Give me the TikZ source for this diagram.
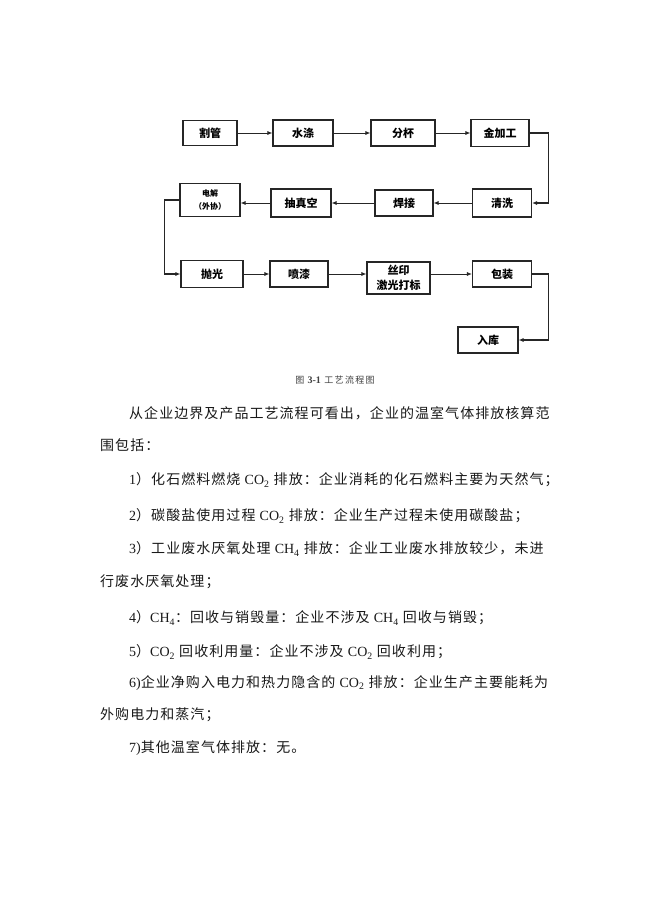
\documentclass[tikz,border=0pt]{standalone}
\usepackage{fontspec}
\setmainfont{Liberation Serif}
\newfontfamily\cjk{Noto Sans CJK SC}
\newfontfamily\cjkbody[LetterSpace=7.5]{Noto Sans CJK SC}
\newfontfamily\cjkcap[LetterSpace=15]{Noto Sans CJK SC}
\usetikzlibrary{arrows.meta}
\newcommand\latn[1]{{\rmfamily #1}}
\newcommand\cotwo{\latn{CO\textsubscript{2}}}
\newcommand\chfour{\latn{CH\textsubscript{4}}}

\tikzset{
  stepbox/.style={draw=black!85, line width=1.1pt, inner sep=0pt, align=center,
    font=\cjk\bfseries\fontsize{11}{15}\selectfont},
  flow/.style={draw=black!85, line width=0.8pt, -{Latex[length=5pt,width=4pt]}},
  loopline/.style={flow, line width=1.1pt},
  bodyline/.style={anchor=west, inner sep=0pt, text=black!90,
    font=\cjkbody\fontsize{14}{16}\selectfont},
}

\begin{document}
\begin{tikzpicture}[x=1pt,y=-1pt]
\useasboundingbox (0,0) rectangle (650,919);
\fill[white] (0,0) rectangle (650,919);

% first row
\node[stepbox, minimum width=54, minimum height=25] (gg) at (210,133) {割管};
\node[stepbox, minimum width=60, minimum height=26] (sd) at (303,133) {水涤};
\node[stepbox, minimum width=64, minimum height=26] (fb) at (403,133) {分杯};
\node[stepbox, minimum width=58, minimum height=27] (jjg) at (500,133) {金加工};

% second row
\node[stepbox, minimum width=59, minimum height=28] (qx) at (502,203) {清洗};
\node[stepbox, minimum width=58, minimum height=26] (hj) at (404,203) {焊接};
\node[stepbox, minimum width=60, minimum height=28] (czk) at (301,203) {抽真空};
\node[stepbox, minimum width=60, minimum height=33,
  font=\cjk\bfseries\fontsize{8}{13}\selectfont] (dj) at (210,200) {电解\\（外协）};

% third row
\node[stepbox, minimum width=62, minimum height=27] (pg) at (212,274) {抛光};
\node[stepbox, minimum width=58, minimum height=26] (pq) at (299,274) {喷漆};
\node[stepbox, minimum width=63, minimum height=32] (sy) at (398.5,278) {丝印\\激光打标};
\node[stepbox, minimum width=59, minimum height=26] (bz) at (502,274) {包装};
\node[stepbox, minimum width=60, minimum height=26] (rk) at (488,340) {入库};

\draw[flow] (gg) -- (sd);
\draw[flow] (sd) -- (fb);
\draw[flow] (fb) -- (jjg);
\draw[loopline] (jjg.east) -- ++(19,0) |- (qx.east);
\draw[flow] (qx) -- (hj);
\draw[flow] (hj) -- (czk);
\draw[flow] (czk.west) -- (czk.west -| dj.east);
\draw[loopline] (dj.west) -- ++(-15,0) |- (pg.west);
\draw[flow] (pg) -- (pq);
\draw[flow] (pq.east) -- (pq.east -| sy.west);
\draw[flow] (sy.east |- bz.west) -- (bz.west);
\draw[loopline] (bz.east) -- ++(16,0) |- (rk.east);

\node[inner sep=0pt, text=black!75] (cap) at (335,380)
  {\cjkcap\fontsize{9}{11}\selectfont 图 \latn{\bfseries\fontsize{10}{11}\selectfont 3-1} 工艺流程图};

% text below the chart
\node[bodyline] (t1) at (129,413) {从企业边界及产品工艺流程可看出，企业的温室气体排放核算范};
\node[bodyline] (t2) at (100,445) {围包括：};
\node[bodyline] (t3) at (129,480) {\latn{1}）化石燃料燃烧 \cotwo{} 排放：企业消耗的化石燃料主要为天然气；};
\node[bodyline] (t4) at (129,516) {\latn{2}）碳酸盐使用过程 \cotwo{} 排放：企业生产过程未使用碳酸盐；};
\node[bodyline] (t5) at (129,549) {\latn{3}）工业废水厌氧处理 \chfour{} 排放：企业工业废水排放较少，未进};
\node[bodyline] (t6) at (100,582) {行废水厌氧处理；};
\node[bodyline] (t7) at (129,618) {\latn{4}）\chfour：回收与销毁量：企业不涉及 \chfour{} 回收与销毁；};
\node[bodyline] (t8) at (129,652) {\latn{5}）\cotwo{} 回收利用量：企业不涉及 \cotwo{} 回收利用；};
\node[bodyline] (t9) at (129,683) {\latn{6)}企业净购入电力和热力隐含的 \cotwo{} 排放：企业生产主要能耗为};
\node[bodyline] (t10) at (100,715) {外购电力和蒸汽；};
\node[bodyline] (t11) at (129,748) {\latn{7)}其他温室气体排放：无。};
\end{tikzpicture}
\end{document}
